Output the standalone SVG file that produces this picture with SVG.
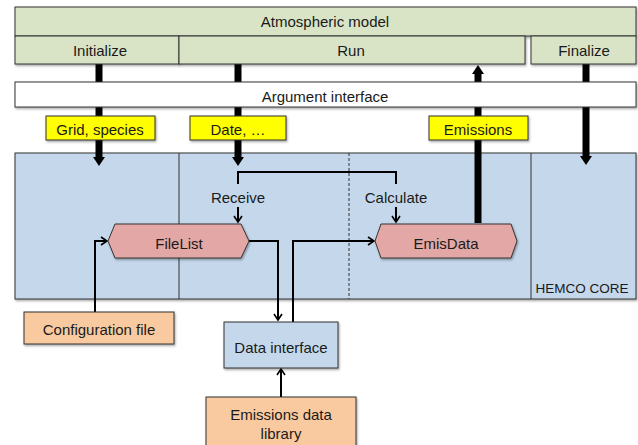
<svg xmlns="http://www.w3.org/2000/svg" width="638" height="445" viewBox="0 0 638 445">
<style>
text{font-family:"Liberation Sans",Arial,sans-serif;font-size:15px;fill:#1a1a1a;text-anchor:middle;dominant-baseline:central}
text.sm{font-size:13.5px}
.g{fill:#d9e4c6;stroke:#333;stroke-width:1}
.w{fill:#fff;stroke:#333;stroke-width:1}
.y{fill:#ffff00;stroke:#333;stroke-width:1}
.b{fill:#c5d8eb;stroke:#333;stroke-width:1}
.p{fill:#e3a8a6;stroke:#333;stroke-width:1}
.o{fill:#f9caa0;stroke:#333;stroke-width:1}
.thick{stroke:#000;stroke-width:7;fill:none}
.thin{stroke:#000;stroke-width:2;fill:none}
</style>
<defs>
<filter id="sh" x="-5%" y="-5%" width="110%" height="130%"><feDropShadow dx="1" dy="1.5" stdDeviation="1" flood-color="#000" flood-opacity="0.35"/></filter>
<marker id="big" markerUnits="userSpaceOnUse" markerWidth="14" markerHeight="12" refX="0" refY="6" orient="auto"><path d="M0,0 L9,6 L0,12 z" fill="#000"/></marker>
<marker id="small" markerUnits="userSpaceOnUse" markerWidth="10" markerHeight="10" refX="7" refY="5" orient="auto"><path d="M1,1 L7,5 L1,9" fill="none" stroke="#000" stroke-width="1.6"/></marker>
</defs>

<g id="hemco-core">
<rect x="15" y="153" width="621" height="146" class="b" filter="url(#sh)"/>
<line x1="179" y1="153" x2="179" y2="299" stroke="#333" stroke-width="1"/>
<line x1="349" y1="153" x2="349" y2="299" stroke="#333" stroke-width="1" stroke-dasharray="3,2"/>
<line x1="531" y1="153" x2="531" y2="299" stroke="#333" stroke-width="1"/>
<text x="582" y="288" class="sm">HEMCO CORE</text>
</g>

<g id="connectors">
<line x1="99" y1="64" x2="99" y2="157" class="thick" marker-end="url(#big)"/>
<line x1="238" y1="64" x2="238" y2="157" class="thick" marker-end="url(#big)"/>
<line x1="478" y1="223" x2="478" y2="74" class="thick" marker-end="url(#big)"/>
<line x1="586" y1="64" x2="586" y2="156" class="thick" marker-end="url(#big)"/>
<path d="M238,184 V172 H396 V184" class="thin"/>
<line x1="238" y1="207" x2="238" y2="222" class="thin" marker-end="url(#small)"/>
<line x1="396" y1="207" x2="396" y2="222" class="thin" marker-end="url(#small)"/>
<path d="M95,312 V241 H107" class="thin" marker-end="url(#small)"/>
<path d="M249,241 H278 V320" class="thin" marker-end="url(#small)"/>
<path d="M293,322 V241 H374" class="thin" marker-end="url(#small)"/>
<line x1="281" y1="397" x2="281" y2="369" class="thin" marker-end="url(#small)"/>
<text x="238" y="197">Receive</text>
<text x="396" y="197">Calculate</text>
</g>

<g id="atmospheric-model">
<rect x="15" y="7" width="621" height="29" class="g" filter="url(#sh)"/>
<text x="325" y="21">Atmospheric model</text>
</g>
<g id="initialize">
<rect x="15" y="36" width="164" height="28" class="g" filter="url(#sh)"/>
<text x="100" y="50">Initialize</text>
</g>
<g id="run">
<rect x="179" y="36" width="346" height="28" class="g" filter="url(#sh)"/>
<text x="351" y="50">Run</text>
</g>
<g id="finalize">
<rect x="531" y="36" width="105" height="28" class="g" filter="url(#sh)"/>
<text x="584" y="50">Finalize</text>
</g>
<g id="argument-interface">
<rect x="15" y="82" width="621" height="25" class="w" filter="url(#sh)"/>
<text x="325" y="96">Argument interface</text>
</g>
<g id="grid-species">
<rect x="46" y="116" width="109" height="24" class="y" filter="url(#sh)"/>
<text x="100" y="129">Grid, species</text>
</g>
<g id="date">
<rect x="190" y="116" width="96" height="24" class="y" filter="url(#sh)"/>
<text x="238" y="129">Date, …</text>
</g>
<g id="emissions">
<rect x="429" y="116" width="99" height="24" class="y" filter="url(#sh)"/>
<text x="478" y="129">Emissions</text>
</g>
<g id="filelist">
<polygon points="108,241 115,224 241,224 249,241 241,258 115,258" class="p" filter="url(#sh)"/>
<text x="179" y="243">FileList</text>
</g>
<g id="emisdata">
<polygon points="375,241 381,224 511,224 517,241 511,258 381,258" class="p" filter="url(#sh)"/>
<text x="446" y="243">EmisData</text>
</g>
<g id="configuration-file">
<rect x="24" y="312" width="150" height="32" class="o" filter="url(#sh)"/>
<text x="99" y="329">Configuration file</text>
</g>
<g id="data-interface">
<rect x="224" y="322" width="114" height="46" class="b" filter="url(#sh)"/>
<text x="281" y="347">Data interface</text>
</g>
<g id="emissions-data-library">
<rect x="206" y="397" width="150" height="50" class="o" filter="url(#sh)"/>
<text x="281" y="414">Emissions data</text>
<text x="281" y="433">library</text>
</g>
</svg>
